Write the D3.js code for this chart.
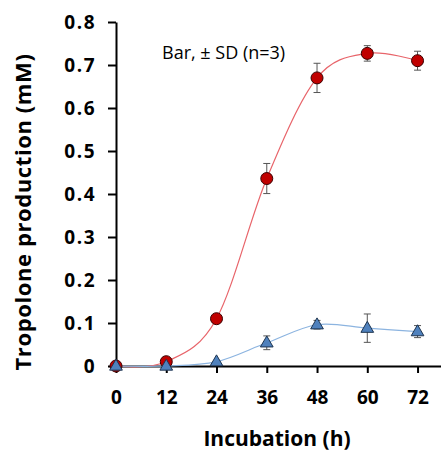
<!DOCTYPE html>
<html lang="en">
<head>
    <meta charset="UTF-8">
    <script src="https://cdn.jsdelivr.net/npm/d3@7"></script>
    <title>Tropolone production</title>
    <style>
        body { margin: 0; background: #fff; }
        svg { display: block; }
        .axis path, .axis line { stroke: #000; stroke-width: 2px; }
        .axis text { font-family: "Open Sans", sans-serif; font-weight: bold; font-size: 19px; fill: #000; }
        .yaxis text { letter-spacing: 1.5px; }
    </style>
</head>
<body>
<svg width="441" height="452"></svg>
<script>
    var hours = [0, 12, 24, 36, 48, 60, 72];
    var redMean = [0, 0.010, 0.110, 0.436, 0.670, 0.727, 0.710];
    var redSD = [0, 0, 0, 0.035, 0.034, 0.018, 0.022];
    var blueMean = [0, 0, 0.010, 0.054, 0.096, 0.088, 0.080];
    var blueSD = [0, 0, 0, 0.016, 0.010, 0.033, 0.014];
    var yTicks = [0, 0.1, 0.2, 0.3, 0.4, 0.5, 0.6, 0.7, 0.8];
    var yTickLabels = ["0", "0.1", "0.2", "0.3", "0.4", "0.5", "0.6", "0.7", "0.8"];

    var svg = d3.select("svg");
    var x = d3.scaleLinear().domain([0, 77.6]).range([116, 441]);
    var y = d3.scaleLinear().domain([0, 0.8]).range([366, 22]);

    var line = d3.line()
        .x(function (d) { return x(d.h); })
        .y(function (d) { return y(d.v); })
        .curve(d3.curveCatmullRom.alpha(0));

    function rows(means, sds) {
        return hours.map(function (h, i) {
            return {h: h, v: means[i], sd: sds[i]};
        });
    }
    var red = rows(redMean, redSD);
    var blue = rows(blueMean, blueSD);

    // axes
    svg.append("g")
        .attr("class", "axis yaxis")
        .attr("transform", "translate(" + x(0) + ",0)")
        .call(d3.axisLeft(y).tickValues(yTicks).tickSize(8).tickSizeOuter(0).tickPadding(12)
            .tickFormat(function (d, i) { return yTickLabels[i]; }));
    svg.append("g")
        .attr("class", "axis")
        .attr("transform", "translate(0," + y(0) + ")")
        .call(d3.axisBottom(x).tickValues(hours).tickSize(7).tickSizeOuter(0).tickPadding(18)
            .tickFormat(d3.format("d")));

    // curves
    svg.append("path").datum(red)
        .attr("d", line)
        .attr("fill", "none")
        .attr("stroke", "#E8646A")
        .attr("stroke-width", 1.2);
    svg.append("path").datum(blue)
        .attr("d", line)
        .attr("fill", "none")
        .attr("stroke", "#8CB4E0")
        .attr("stroke-width", 1.2);

    // error bars
    function errorBars(data) {
        var g = svg.append("g")
            .attr("stroke", "#555")
            .attr("stroke-width", 1);
        data.filter(function (d) { return d.sd > 0; }).forEach(function (d) {
            var cx = x(d.h);
            g.append("line").attr("x1", cx).attr("x2", cx)
                .attr("y1", y(d.v - d.sd)).attr("y2", y(d.v + d.sd));
            g.append("line").attr("x1", cx - 3.5).attr("x2", cx + 3.5)
                .attr("y1", y(d.v - d.sd)).attr("y2", y(d.v - d.sd));
            g.append("line").attr("x1", cx - 3.5).attr("x2", cx + 3.5)
                .attr("y1", y(d.v + d.sd)).attr("y2", y(d.v + d.sd));
        });
    }
    errorBars(red);
    errorBars(blue);

    // markers
    svg.append("g").selectAll("circle")
        .data(red)
        .enter()
        .append("circle")
        .attr("cx", function (d) { return x(d.h); })
        .attr("cy", function (d) { return y(d.v); })
        .attr("r", 6)
        .attr("fill", "#C00000")
        .attr("stroke", "#3a0000")
        .attr("stroke-width", 1);

    var tri = d3.symbol().type(d3.symbolTriangle).size(70);
    svg.append("g").selectAll("path")
        .data(blue)
        .enter()
        .append("path")
        .attr("d", tri)
        .attr("transform", function (d) { return "translate(" + x(d.h) + "," + (y(d.v) + 0.5) + ")"; })
        .attr("fill", "#4F81BD")
        .attr("stroke", "#1F3550")
        .attr("stroke-width", 1);

    // texts
    svg.append("text")
        .attr("x", 162)
        .attr("y", 59)
        .attr("font-family", "'Open Sans', sans-serif")
        .attr("font-size", 18)
        .attr("fill", "#000")
        .text("Bar, \u00b1 SD (n=3)");

    svg.append("text")
        .attr("transform", "translate(31,212) rotate(-90)")
        .attr("text-anchor", "middle")
        .attr("font-family", "'Open Sans', sans-serif")
        .attr("font-weight", "bold")
        .attr("font-size", 22)
        .attr("letter-spacing", 0.6)
        .attr("fill", "#000")
        .text("Tropolone production (mM)");

    svg.append("text")
        .attr("x", 277)
        .attr("y", 446)
        .attr("text-anchor", "middle")
        .attr("font-family", "'Open Sans', sans-serif")
        .attr("font-weight", "bold")
        .attr("font-size", 21)
        .attr("fill", "#000")
        .text("Incubation (h)");
</script>
</body>
</html>
